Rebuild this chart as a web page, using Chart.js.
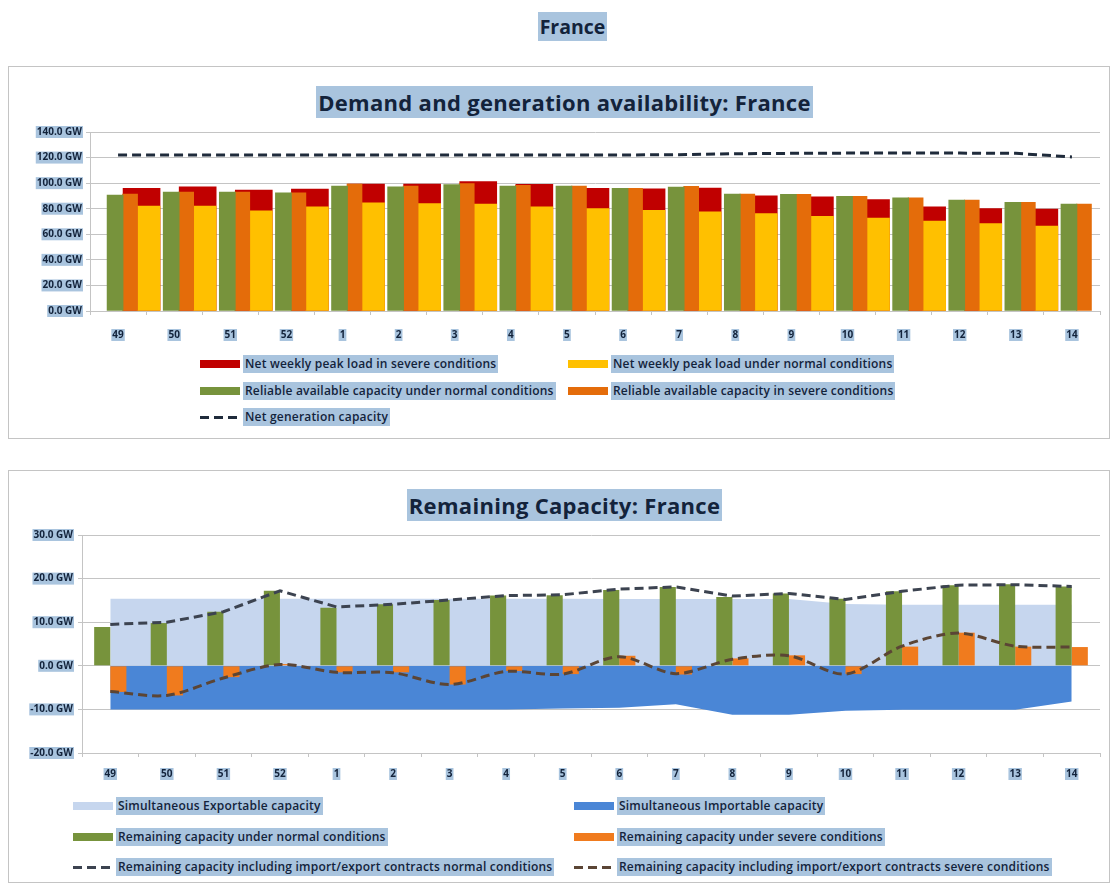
<!DOCTYPE html>
<html>
<head>
<meta charset="utf-8">
<script src="https://cdn.jsdelivr.net/npm/chart.js@4.4.1/dist/chart.umd.min.js"></script>
<style>
html,body{margin:0;padding:0;background:#fff;}
body{width:1113px;height:886px;position:relative;overflow:hidden;font-family:'Open Sans',sans-serif;color:#13233b;}
.hl{background:#a9c4de;color:#13233b;padding:1px 2px;}
#mainTitle{position:absolute;top:13px;left:16px;width:1113px;text-align:center;font-weight:700;font-size:19.5px;line-height:28px;}
.box{position:absolute;left:8px;width:1102px;border:1px solid #c4c4c4;box-sizing:border-box;}
#box1{top:66px;height:373px;}
#box2{top:470px;height:413px;}
.ctitle{position:absolute;left:8px;width:1113px;text-align:center;font-weight:700;font-size:22px;letter-spacing:0.3px;line-height:28px;}
canvas{position:absolute;left:0;}
.item{position:absolute;display:flex;align-items:center;white-space:nowrap;font-size:12px;letter-spacing:0.2px;font-weight:600;line-height:16px;}
.sw{display:inline-block;width:40px;height:8px;margin-right:3px;}
.dsh{display:inline-block;width:38px;height:3px;margin-right:5px;}
</style>
</head>
<body>
<div id="mainTitle"><span class="hl">France</span></div>
<div class="box" id="box1"></div>
<div class="box" id="box2"></div>
<div class="ctitle" style="top:88px"><span class="hl">Demand and generation availability: France</span></div>
<div class="ctitle" style="top:491px"><span class="hl">Remaining Capacity: France</span></div>
<canvas id="c1" width="1113" height="236" style="top:116px"></canvas>
<canvas id="c2" width="1113" height="270" style="top:520px"></canvas>
<div id="leg1"></div>
<div id="leg2"></div>
<script>
// ---------- data ----------
const weeks = ['49','50','51','52','1','2','3','4','5','6','7','8','9','10','11','12','13','14'];

// Chart 1: Demand and generation availability (GW)
const peakLoadSevere   = [95.9, 97.2, 94.6, 95.4, 99.3, 99.3, 101.2, 99.0, 96.0, 95.5, 96.2, 90.0, 89.2, 87.2, 81.5, 80.2, 79.8, null];
const peakLoadNormal   = [82.0, 82.0, 78.3, 81.5, 84.6, 84.1, 83.6, 81.5, 80.2, 78.8, 77.5, 76.2, 74.1, 72.6, 70.4, 68.3, 66.4, null];
const reliableNormal   = [90.7, 93.0, 93.0, 92.5, 97.8, 97.2, 98.8, 97.8, 97.8, 95.9, 97.0, 91.5, 91.2, 89.6, 88.6, 86.7, 85.0, 83.6];
const reliableSevere   = [91.5, 93.0, 93.0, 92.5, 99.3, 97.8, 99.6, 98.3, 97.8, 95.9, 97.5, 91.5, 91.2, 89.6, 88.6, 86.7, 85.0, 83.6];
const netGenCapacity   = [122, 122, 122, 122, 122, 122, 122, 122, 122, 122, 122.3, 123, 123.3, 123.5, 123.5, 123.5, 123.3, 120.5];
const yTicks1 = [0, 20, 40, 60, 80, 100, 120, 140];

// Chart 2: Remaining capacity (GW)
const exportable       = [15.4, 15.4, 15.4, 15.4, 15.4, 15.4, 15.4, 15.4, 15.4, 15.3, 15.3, 15.3, 15.3, 14.2, 14.0, 14.0, 14.0, 14.0];
const importable       = [-10, -10, -10, -10, -10, -10, -10, -10, -9.8, -9.6, -8.8, -11.2, -11.2, -10.3, -10.1, -10.1, -10.1, -8.2];
const remainNormal     = [8.9, 9.8, 12.4, 17.2, 13.3, 14.1, 15.1, 16.1, 16.2, 17.4, 18.1, 15.8, 16.6, 15.4, 17.1, 18.5, 18.7, 18.2];
const remainSevere     = [-6.0, -6.8, -2.6, 0.4, -1.5, -1.5, -4.3, -1.2, -1.9, 2.3, -2.0, 1.7, 2.4, -1.9, 4.4, 7.6, 4.4, 4.3];
const contractsNormal  = [9.5, 10.0, 12.4, 17.2, 13.5, 14.1, 15.1, 16.1, 16.3, 17.6, 18.1, 16.0, 16.6, 15.2, 17.1, 18.5, 18.6, 18.2];
const contractsSevere  = [-5.9, -6.8, -2.8, 0.3, -1.5, -1.6, -4.3, -1.3, -1.9, 2.1, -1.8, 1.5, 2.3, -1.9, 4.5, 7.5, 4.5, 4.3];
const yTicks2 = [-20, -10, 0, 10, 20, 30];

// ---------- styling ----------
const FONT = 'Open Sans';
const TXT = '#13233b';
const HL = '#a9c4de';
const GRID = '#c4c4c4';
const tickFont = {family: FONT, size: 10, weight: 'bold'};
const gw = v => Number(v).toFixed(1) + ' GW';

const xTicks = (pad) => ({font: tickFont, color: TXT, padding: pad, maxRotation: 0, autoSkip: false,
  showLabelBackdrop: true, backdropColor: HL, backdropPadding: {top: 0, bottom: 0, left: 1, right: 1}});
const yTickOpts = (pad) => ({font: tickFont, color: TXT, padding: pad, callback: gw,
  showLabelBackdrop: true, backdropColor: HL, backdropPadding: {top: 0, bottom: 0, left: 1, right: 1}});

// ---------- chart 1 ----------
// Each column series sits on its own hidden linear index axis, shifted (in category units)
// relative to the week label, reproducing the overlapped column layout of the original workbook.
const idx = weeks.map((w, i) => i);
const pts = arr => idx.map(i => ({x: i, y: arr[i]}));
const shiftedAxis = s => ({type: 'linear', display: false, offset: false,
  min: -0.5 - s, max: weeks.length - 0.5 - s,
  afterBuildTicks: sc => { sc.ticks = idx.map(i => ({value: i})); }});
const colBase = {grouped: false, categoryPercentage: 1, barPercentage: 1};

const c1 = new Chart(document.getElementById('c1'), {
  type: 'bar',
  data: {
    labels: weeks,
    datasets: [
      {...colBase, label: 'Net weekly peak load in severe conditions', xAxisID: 'xr', order: 4,
       data: pts(peakLoadSevere), backgroundColor: '#c00000', maxBarThickness: 37},
      {...colBase, label: 'Net weekly peak load under normal conditions', xAxisID: 'xl', order: 3,
       data: pts(peakLoadNormal), backgroundColor: '#ffc000', maxBarThickness: 23},
      {...colBase, label: 'Reliable available capacity under normal conditions', xAxisID: 'xg', order: 2,
       data: pts(reliableNormal), backgroundColor: '#77933c', maxBarThickness: 16},
      {...colBase, label: 'Reliable available capacity in severe conditions', xAxisID: 'xo', order: 2,
       data: pts(reliableSevere), backgroundColor: '#e46c0a', maxBarThickness: 15},
      {type: 'line', label: 'Net generation capacity', xAxisID: 'x', order: 0, data: netGenCapacity,
       borderColor: '#1f2b3b', borderWidth: 3, borderDash: [9, 5], pointRadius: 0, fill: false}
    ]
  },
  options: {
    responsive: false, animation: false,
    layout: {padding: {top: 16, right: 13, left: 0, bottom: 0}},
    plugins: {legend: {display: false}, tooltip: {enabled: false}},
    scales: {
      x: {type: 'category', offset: true,
          grid: {offset: true, drawOnChartArea: false, drawTicks: true, tickLength: 4, color: GRID},
          border: {color: GRID}, ticks: xTicks(14),
          afterFit: s => { s.height = 41; }},
      xg: shiftedAxis(-0.053),
      xo: shiftedAxis(0.214),
      xr: shiftedAxis(0.419),
      xl: shiftedAxis(0.544),
      y: {min: 0, max: 140,
          afterBuildTicks: s => { s.ticks = yTicks1.map(v => ({value: v})); },
          grid: {color: GRID, tickLength: 4}, border: {color: GRID},
          ticks: yTickOpts(4),
          afterFit: s => { s.width = 90; }}
    }
  }
});

// ---------- chart 2 ----------
const c2 = new Chart(document.getElementById('c2'), {
  type: 'bar',
  data: {
    labels: weeks,
    datasets: [
      {type: 'line', label: 'Simultaneous Exportable capacity', data: exportable, order: 5,
       fill: 'origin', backgroundColor: '#c6d6ee', borderColor: 'rgba(0,0,0,0)', borderWidth: 0, pointRadius: 0},
      {type: 'line', label: 'Simultaneous Importable capacity', data: importable, order: 5,
       fill: 'origin', backgroundColor: '#4a86d6', borderColor: 'rgba(0,0,0,0)', borderWidth: 0, pointRadius: 0},
      {label: 'Remaining capacity under normal conditions', data: remainNormal, order: 2,
       backgroundColor: '#77933c', categoryPercentage: 0.57, barPercentage: 1},
      {label: 'Remaining capacity under severe conditions', data: remainSevere, order: 2,
       backgroundColor: '#f07b1e', categoryPercentage: 0.57, barPercentage: 1},
      {type: 'line', label: 'Remaining capacity including import/export contracts normal conditions', data: contractsNormal, order: 0,
       borderColor: '#3c4350', borderWidth: 3, borderDash: [9, 5], pointRadius: 0, fill: false},
      {type: 'line', label: 'Remaining capacity including import/export contracts severe conditions', data: contractsSevere, order: 0,
       borderColor: '#5b4535', borderWidth: 3, borderDash: [9, 5], pointRadius: 0, fill: false, tension: 0.3}
    ]
  },
  options: {
    responsive: false, animation: false,
    layout: {padding: {top: 15, right: 13, left: 0, bottom: 0}},
    plugins: {legend: {display: false}, tooltip: {enabled: false}},
    scales: {
      x: {type: 'category', offset: true,
          grid: {offset: true, drawOnChartArea: false, drawTicks: true, tickLength: 4, color: GRID},
          border: {display: false}, ticks: xTicks(11),
          afterFit: s => { s.height = 37; }},
      y: {min: -20, max: 30,
          afterBuildTicks: s => { s.ticks = yTicks2.map(v => ({value: v})); },
          grid: {color: GRID, tickLength: 4}, border: {color: GRID},
          ticks: yTickOpts(5),
          afterFit: s => { s.width = 82; }}
    }
  }
});

// ---------- HTML legends built from datasets ----------
function buildLegend(chart, holderId, cols, rows) {
  const holder = document.getElementById(holderId);
  chart.data.datasets.forEach((ds, i) => {
    const el = document.createElement('div');
    el.className = 'item';
    el.style.left = cols[i % 2] + 'px';
    el.style.top = (rows[Math.floor(i / 2)] - 8) + 'px';
    const mk = document.createElement('span');
    if (ds.type === 'line' && ds.borderDash) {
      mk.className = 'dsh';
      mk.style.background = `repeating-linear-gradient(90deg, ${ds.borderColor} 0 9px, transparent 9px 14px)`;
    } else {
      mk.className = 'sw';
      mk.style.background = ds.backgroundColor;
    }
    const tx = document.createElement('span');
    tx.className = 'hl';
    tx.textContent = ds.label;
    el.appendChild(mk); el.appendChild(tx);
    holder.appendChild(el);
  });
}
buildLegend(c1, 'leg1', [200, 568], [363, 390, 416]);
buildLegend(c2, 'leg2', [73, 574], [805, 836, 866]);
</script>
</body>
</html>
